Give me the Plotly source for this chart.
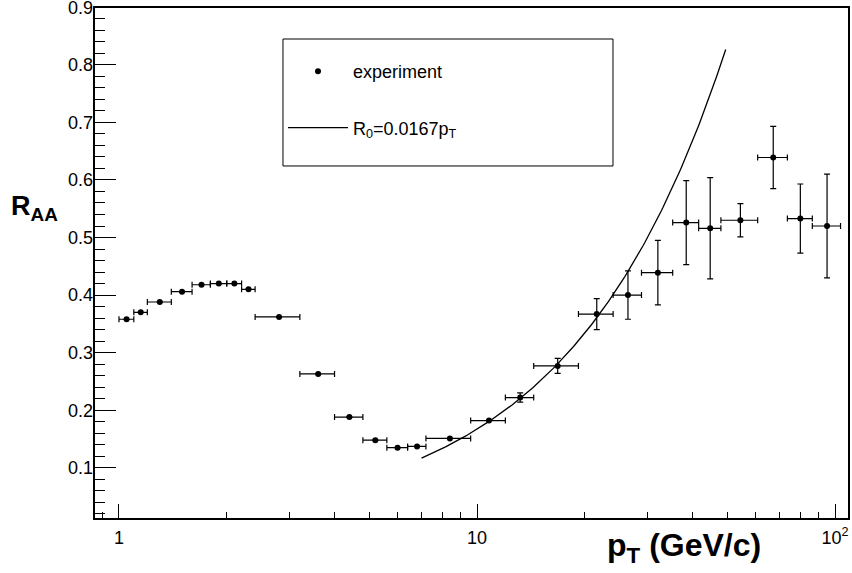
import plotly.graph_objects as go
import numpy as np

# ---- data ----
pt_center = [1.05, 1.15, 1.30, 1.50, 1.70, 1.90, 2.10, 2.30, 2.80, 3.60,
             4.40, 5.20, 6.00, 6.80, 8.40, 10.8, 13.2, 16.8, 21.6, 26.4,
             32.0, 38.4, 44.8, 54.4, 67.2, 80.0, 95.0]
pt_low = [1.0, 1.1, 1.2, 1.4, 1.6, 1.8, 2.0, 2.2, 2.4, 3.2,
          4.0, 4.8, 5.6, 6.4, 7.2, 9.6, 12.0, 14.4, 19.2, 24.0,
          28.8, 35.2, 41.6, 48.0, 60.8, 73.6, 86.4]
pt_high = [1.1, 1.2, 1.4, 1.6, 1.8, 2.0, 2.2, 2.4, 3.2, 4.0,
           4.8, 5.6, 6.4, 7.2, 9.6, 12.0, 14.4, 19.2, 24.0, 28.8,
           35.2, 41.6, 48.0, 60.8, 73.6, 86.4, 103.6]
raa = [0.358, 0.370, 0.388, 0.406, 0.418, 0.420, 0.420, 0.410, 0.362, 0.263,
       0.188, 0.148, 0.135, 0.137, 0.151, 0.182, 0.222, 0.277, 0.367, 0.400,
       0.439, 0.526, 0.516, 0.530, 0.639, 0.533, 0.520]
raa_err = [0, 0, 0, 0, 0, 0, 0, 0, 0, 0,
           0, 0, 0, 0, 0, 0, 0.008, 0.013, 0.027, 0.042,
           0.056, 0.073, 0.088, 0.029, 0.054, 0.060, 0.090]

# model curve R0 = slope * pT
model_slope = 0.0167
model_pt_min = 7.0
model_pt_max = 49.5

x_tickvals = [1, 10, 100]
x_ticktext = ["1", "10", "10<sup>2</sup>"]
x_minor = [0.9, 2, 3, 4, 5, 6, 7, 8, 9, 20, 30, 40, 50, 60, 70, 80, 90]
y_tickvals = [0.1, 0.2, 0.3, 0.4, 0.5, 0.6, 0.7, 0.8, 0.9]
y_ticktext = ["0.1", "0.2", "0.3", "0.4", "0.5", "0.6", "0.7", "0.8", "0.9"]

FONT = "Liberation Sans, Arial, Helvetica, sans-serif"

pc = np.array(pt_center)
err_plus = list(np.array(pt_high) - pc)
err_minus = list(pc - np.array(pt_low))

model_x = np.logspace(np.log10(model_pt_min), np.log10(model_pt_max), 200)
model_y = model_slope * model_x

fig = go.Figure()
fig.add_trace(go.Scatter(
    x=pt_center, y=raa, mode="markers", name="experiment",
    marker=dict(color="black", size=6, symbol="circle"),
    error_x=dict(type="data", symmetric=False, array=err_plus, arrayminus=err_minus,
                 color="black", thickness=1.2, width=3),
    error_y=dict(type="data", array=raa_err, color="black", thickness=1.2, width=3),
    legendgroup="a",
))
fig.add_trace(go.Scatter(
    x=model_x, y=model_y, mode="lines", name="R<sub>0</sub>=0.0167p<sub>T</sub>",
    line=dict(color="black", width=1.3),
    legendgroup="b",
))

fig.update_layout(
    width=852, height=573,
    margin=dict(l=94, r=3, t=7, b=54, autoexpand=False),
    paper_bgcolor="white", plot_bgcolor="white",
    font=dict(family=FONT, size=18, color="black"),
    showlegend=True,
    legend=dict(x=0.2503, y=0.9102, xanchor="left", yanchor="top",
                borderwidth=0, bgcolor="rgba(0,0,0,0)",
                font=dict(size=18), tracegroupgap=30, itemwidth=60),
    shapes=[
        dict(type="rect", xref="paper", yref="paper",
             x0=0.2503, x1=0.6874, y0=0.6895, y1=0.9375,
             line=dict(color="black", width=1), fillcolor="rgba(0,0,0,0)",
             layer="above"),
        dict(type="rect", xref="paper", yref="paper",
             x0=0, x1=1, y0=0, y1=1,
             line=dict(color="black", width=2), fillcolor="rgba(0,0,0,0)",
             layer="above"),
    ],
    xaxis=dict(type="log", range=[-0.0698, 2.039], automargin=False,
               tickmode="array", tickvals=x_tickvals, ticktext=x_ticktext,
               ticks="inside", ticklen=15, tickwidth=1, tickcolor="black",
               ticklabelstandoff=6, ticklabeloverflow="allow",
               minor=dict(tickmode="array", tickvals=x_minor, ticks="inside",
                          ticklen=7, tickwidth=1, tickcolor="black", showgrid=False),
               showline=False, showgrid=False, zeroline=False,
               tickfont=dict(size=18)),
    yaxis=dict(range=[0.011, 0.9005], automargin=False,
               tickmode="array", tickvals=y_tickvals, ticktext=y_ticktext,
               ticks="inside", ticklen=22, tickwidth=1, tickcolor="black",
               ticklabeloverflow="allow",
               minor=dict(dtick=0.02, tick0=0, ticks="inside", ticklen=11,
                          tickwidth=1, tickcolor="black", showgrid=False),
               showline=False, showgrid=False, zeroline=False,
               tickfont=dict(size=18)),
    annotations=[
        dict(text="<b>p<sub>T</sub> (GeV/c)</b>", xref="paper", yref="paper",
             x=0.886, y=-0.056, xanchor="right", yanchor="middle",
             showarrow=False, font=dict(size=32, family=FONT)),
        dict(text="<b>R<sub>AA</sub></b>", xref="paper", yref="paper",
             x=-0.113, y=0.607, xanchor="left", yanchor="middle",
             showarrow=False, font=dict(size=27, family=FONT)),
    ],
)

# remove the default page margin so the 852x573 figure fills the window exactly
fig.write_html("out.html",
               config={"displayModeBar": False},
               post_script="document.body.style.margin='0';"
                           "document.body.style.overflow='hidden';")
